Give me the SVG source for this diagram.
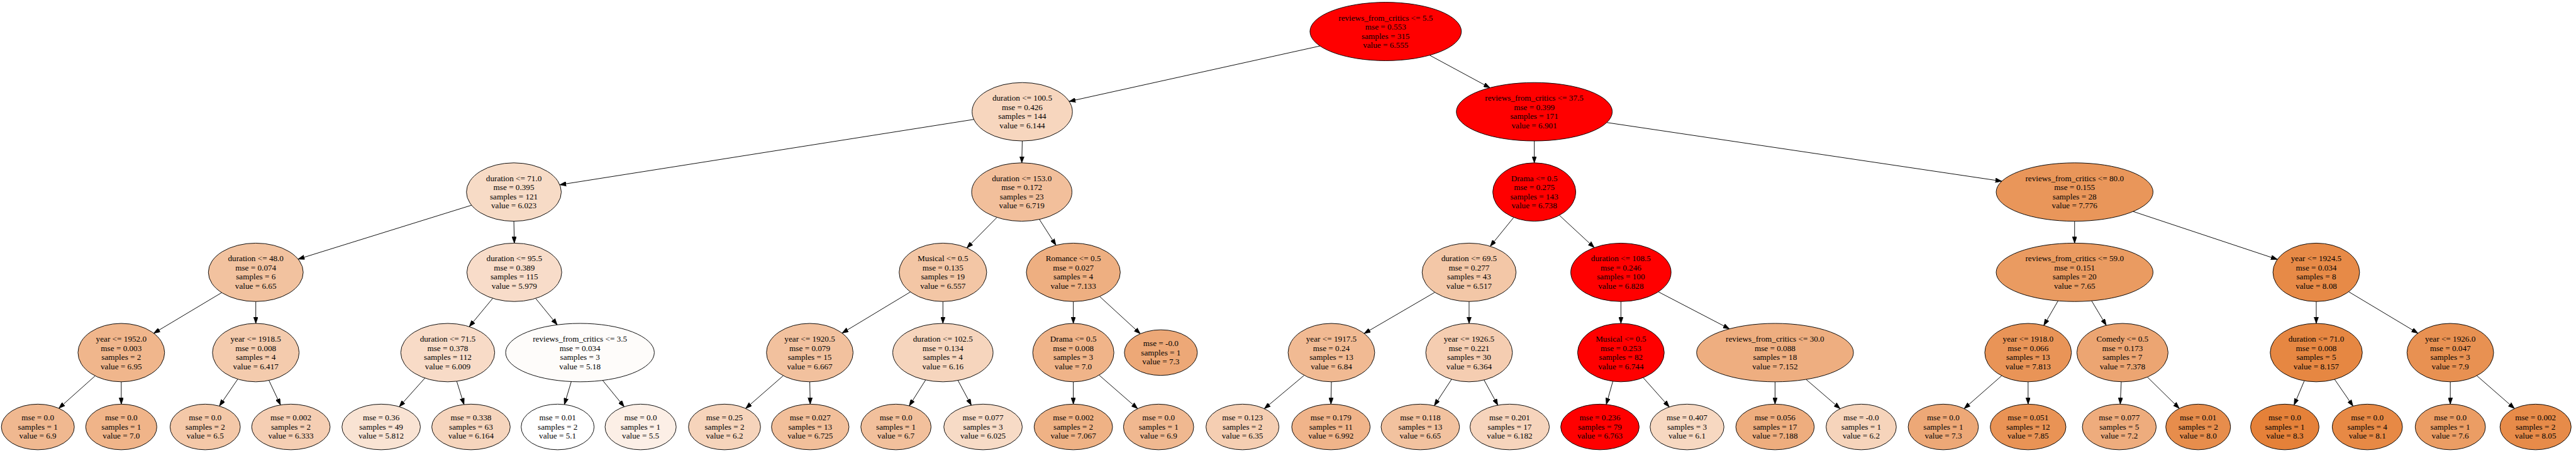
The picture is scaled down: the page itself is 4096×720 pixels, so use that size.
<svg xmlns="http://www.w3.org/2000/svg" width="4096" height="720" viewBox="0 0 4096 720">
<defs>
<style>
.node ellipse{stroke:#000;stroke-width:1.3}
.node text{font-family:"Liberation Serif","Times New Roman",serif;font-size:18.2px;text-anchor:middle;fill:#000}
.edges line{stroke:#000;stroke-width:1.3;fill:none;marker-end:url(#arr)}
</style>
<marker id="arr" markerUnits="userSpaceOnUse" viewBox="0 0 14 10" markerWidth="14" markerHeight="10" refX="14" refY="5" orient="auto"><path d="M0,0 L14,5 L0,10 z" fill="#000" stroke="#000" stroke-width="1"/></marker>
</defs>
<rect x="0" y="0" width="4096" height="720" fill="#fff"/>
<g transform="scale(0.725)">
<g id="edges" class="edges">
<line x1="2895" y1="100.8" x2="2344.9" y2="222.3"/>
<line x1="3135.5" y1="121.1" x2="3267.6" y2="192.4"/>
<line x1="2135.8" y1="261.8" x2="1227.7" y2="405.1"/>
<line x1="2242" y1="309" x2="2241" y2="357"/>
<line x1="3365" y1="309" x2="3365" y2="357"/>
<line x1="3523.9" y1="268.6" x2="4390.3" y2="397.3"/>
<line x1="1034.2" y1="449.9" x2="653.8" y2="568.1"/>
<line x1="1127" y1="485" x2="1128" y2="533"/>
<line x1="2186.4" y1="476.6" x2="2120.6" y2="543.5"/>
<line x1="2279.5" y1="480.9" x2="2315.8" y2="537.6"/>
<line x1="3319.9" y1="476.6" x2="3268.4" y2="539.9"/>
<line x1="3420" y1="472" x2="3496.5" y2="542.8"/>
<line x1="4550" y1="485" x2="4550" y2="533"/>
<line x1="4678.3" y1="463.6" x2="4994.8" y2="568.7"/>
<line x1="486.3" y1="641.5" x2="337.1" y2="730.6"/>
<line x1="561" y1="661" x2="561" y2="709"/>
<line x1="1080.7" y1="654" x2="1029.2" y2="716.1"/>
<line x1="1174.8" y1="654.2" x2="1222.1" y2="712.1"/>
<line x1="1996.8" y1="639.9" x2="1846.8" y2="730.3"/>
<line x1="2068" y1="661" x2="2068" y2="709"/>
<line x1="2354" y1="661" x2="2354" y2="709"/>
<line x1="2411.8" y1="650" x2="2500.9" y2="731.7"/>
<line x1="3146.9" y1="640.8" x2="2991.8" y2="731.1"/>
<line x1="3222" y1="661" x2="3222" y2="709"/>
<line x1="3555" y1="661" x2="3555" y2="709"/>
<line x1="3637" y1="639.7" x2="3793" y2="720.9"/>
<line x1="4513.7" y1="659.6" x2="4482.5" y2="713.4"/>
<line x1="4587.3" y1="659.5" x2="4619.3" y2="713.2"/>
<line x1="5080" y1="661" x2="5080" y2="709"/>
<line x1="5151" y1="639.5" x2="5303" y2="730.5"/>
<line x1="208.7" y1="824" x2="129" y2="895.1"/>
<line x1="266" y1="837" x2="266" y2="886"/>
<line x1="521.4" y1="831.2" x2="481.3" y2="890"/>
<line x1="589.8" y1="834" x2="615.2" y2="887.8"/>
<line x1="931.9" y1="828.9" x2="875.7" y2="891.6"/>
<line x1="1001.7" y1="835.8" x2="1017.6" y2="886.8"/>
<line x1="1252.9" y1="836.6" x2="1237.8" y2="886.9"/>
<line x1="1321.7" y1="833.9" x2="1368.9" y2="891.7"/>
<line x1="1717.9" y1="823.6" x2="1635.4" y2="895.5"/>
<line x1="1776" y1="837" x2="1777" y2="886"/>
<line x1="2030" y1="833.1" x2="1994.2" y2="889.7"/>
<line x1="2101" y1="834.1" x2="2130.2" y2="888.3"/>
<line x1="2354" y1="837" x2="2354" y2="886"/>
<line x1="2410.6" y1="822.4" x2="2495" y2="895.9"/>
<line x1="2860.4" y1="822.8" x2="2772.9" y2="896"/>
<line x1="2920" y1="837" x2="2919" y2="886"/>
<line x1="3183.6" y1="831.5" x2="3145.7" y2="889.3"/>
<line x1="3254.8" y1="833.1" x2="3285" y2="888.3"/>
<line x1="3537.3" y1="835.9" x2="3522.9" y2="886.7"/>
<line x1="3603.8" y1="827.9" x2="3661" y2="892.2"/>
<line x1="3893" y1="837" x2="3893" y2="886"/>
<line x1="3961.1" y1="831.8" x2="4035.7" y2="896"/>
<line x1="4390.1" y1="823.7" x2="4307.8" y2="895.8"/>
<line x1="4448" y1="837" x2="4448" y2="886"/>
<line x1="4652.3" y1="837" x2="4650.1" y2="886"/>
<line x1="4709.6" y1="826.6" x2="4779.6" y2="895.4"/>
<line x1="5053.8" y1="834.8" x2="5031.4" y2="887.9"/>
<line x1="5120.3" y1="831.7" x2="5160.6" y2="890.3"/>
<line x1="5374" y1="837" x2="5374" y2="886"/>
<line x1="5432.1" y1="823.6" x2="5514.8" y2="895.7"/>
</g>
<g id="n0" class="node"><ellipse cx="3039" cy="69" rx="166" ry="64" fill="#ff0000"/><text><tspan x="3039" y="45">reviews_from_critics &lt;= 5.5</tspan><tspan x="3039" dy="20">mse = 0.553</tspan><tspan x="3039" dy="20">samples = 315</tspan><tspan x="3039" dy="20">value = 6.555</tspan></text></g>
<g id="n1" class="node"><ellipse cx="2242" cy="245" rx="110" ry="64" fill="#f7d6be"/><text><tspan x="2242" y="221">duration &lt;= 100.5</tspan><tspan x="2242" dy="20">mse = 0.426</tspan><tspan x="2242" dy="20">samples = 144</tspan><tspan x="2242" dy="20">value = 6.144</tspan></text></g>
<g id="n2" class="node"><ellipse cx="3365" cy="245" rx="171" ry="64" fill="#ff0000"/><text><tspan x="3365" y="221">reviews_from_critics &lt;= 37.5</tspan><tspan x="3365" dy="20">mse = 0.399</tspan><tspan x="3365" dy="20">samples = 171</tspan><tspan x="3365" dy="20">value = 6.901</tspan></text></g>
<g id="n3" class="node"><ellipse cx="1127" cy="421" rx="104" ry="64" fill="#f7dbc6"/><text><tspan x="1127" y="397">duration &lt;= 71.0</tspan><tspan x="1127" dy="20">mse = 0.395</tspan><tspan x="1127" dy="20">samples = 121</tspan><tspan x="1127" dy="20">value = 6.023</tspan></text></g>
<g id="n4" class="node"><ellipse cx="2241" cy="421" rx="110" ry="64" fill="#f2bf9b"/><text><tspan x="2241" y="397">duration &lt;= 153.0</tspan><tspan x="2241" dy="20">mse = 0.172</tspan><tspan x="2241" dy="20">samples = 23</tspan><tspan x="2241" dy="20">value = 6.719</tspan></text></g>
<g id="n5" class="node"><ellipse cx="3365" cy="421" rx="91" ry="64" fill="#ff0000"/><text><tspan x="3365" y="397">Drama &lt;= 0.5</tspan><tspan x="3365" dy="20">mse = 0.275</tspan><tspan x="3365" dy="20">samples = 143</tspan><tspan x="3365" dy="20">value = 6.738</tspan></text></g>
<g id="n6" class="node"><ellipse cx="4550" cy="421" rx="172" ry="64" fill="#e9965a"/><text><tspan x="4550" y="397">reviews_from_critics &lt;= 80.0</tspan><tspan x="4550" dy="20">mse = 0.155</tspan><tspan x="4550" dy="20">samples = 28</tspan><tspan x="4550" dy="20">value = 7.776</tspan></text></g>
<g id="n7" class="node"><ellipse cx="561" cy="597" rx="104" ry="64" fill="#f2c29f"/><text><tspan x="561" y="573">duration &lt;= 48.0</tspan><tspan x="561" dy="20">mse = 0.074</tspan><tspan x="561" dy="20">samples = 6</tspan><tspan x="561" dy="20">value = 6.65</tspan></text></g>
<g id="n8" class="node"><ellipse cx="1128" cy="597" rx="104" ry="64" fill="#f8dcc9"/><text><tspan x="1128" y="573">duration &lt;= 95.5</tspan><tspan x="1128" dy="20">mse = 0.389</tspan><tspan x="1128" dy="20">samples = 115</tspan><tspan x="1128" dy="20">value = 5.979</tspan></text></g>
<g id="n9" class="node"><ellipse cx="2068" cy="597" rx="96" ry="64" fill="#f3c6a5"/><text><tspan x="2068" y="573">Musical &lt;= 0.5</tspan><tspan x="2068" dy="20">mse = 0.135</tspan><tspan x="2068" dy="20">samples = 19</tspan><tspan x="2068" dy="20">value = 6.557</tspan></text></g>
<g id="n10" class="node"><ellipse cx="2354" cy="597" rx="103" ry="64" fill="#eeaf81"/><text><tspan x="2354" y="573">Romance &lt;= 0.5</tspan><tspan x="2354" dy="20">mse = 0.027</tspan><tspan x="2354" dy="20">samples = 4</tspan><tspan x="2354" dy="20">value = 7.133</tspan></text></g>
<g id="n11" class="node"><ellipse cx="3222" cy="597" rx="103" ry="64" fill="#f3c7a7"/><text><tspan x="3222" y="573">duration &lt;= 69.5</tspan><tspan x="3222" dy="20">mse = 0.277</tspan><tspan x="3222" dy="20">samples = 43</tspan><tspan x="3222" dy="20">value = 6.517</tspan></text></g>
<g id="n12" class="node"><ellipse cx="3555" cy="597" rx="110" ry="64" fill="#ff0000"/><text><tspan x="3555" y="573">duration &lt;= 108.5</tspan><tspan x="3555" dy="20">mse = 0.246</tspan><tspan x="3555" dy="20">samples = 100</tspan><tspan x="3555" dy="20">value = 6.828</tspan></text></g>
<g id="n13" class="node"><ellipse cx="4550" cy="597" rx="172" ry="64" fill="#ea9b61"/><text><tspan x="4550" y="573">reviews_from_critics &lt;= 59.0</tspan><tspan x="4550" dy="20">mse = 0.151</tspan><tspan x="4550" dy="20">samples = 20</tspan><tspan x="4550" dy="20">value = 7.65</tspan></text></g>
<g id="n14" class="node"><ellipse cx="5080" cy="597" rx="95" ry="64" fill="#e78a47"/><text><tspan x="5080" y="573">year &lt;= 1924.5</tspan><tspan x="5080" dy="20">mse = 0.034</tspan><tspan x="5080" dy="20">samples = 8</tspan><tspan x="5080" dy="20">value = 8.08</tspan></text></g>
<g id="n15" class="node"><ellipse cx="266" cy="773" rx="95" ry="64" fill="#f0b68c"/><text><tspan x="266" y="749">year &lt;= 1952.0</tspan><tspan x="266" dy="20">mse = 0.003</tspan><tspan x="266" dy="20">samples = 2</tspan><tspan x="266" dy="20">value = 6.95</tspan></text></g>
<g id="n16" class="node"><ellipse cx="561" cy="773" rx="95" ry="64" fill="#f4cbad"/><text><tspan x="561" y="749">year &lt;= 1918.5</tspan><tspan x="561" dy="20">mse = 0.008</tspan><tspan x="561" dy="20">samples = 4</tspan><tspan x="561" dy="20">value = 6.417</tspan></text></g>
<g id="n17" class="node"><ellipse cx="982" cy="773" rx="103" ry="64" fill="#f8dbc7"/><text><tspan x="982" y="749">duration &lt;= 71.5</tspan><tspan x="982" dy="20">mse = 0.378</tspan><tspan x="982" dy="20">samples = 112</tspan><tspan x="982" dy="20">value = 6.009</tspan></text></g>
<g id="n18" class="node"><ellipse cx="1272" cy="773" rx="163" ry="64" fill="#fefcfa"/><text><tspan x="1272" y="749">reviews_from_critics &lt;= 3.5</tspan><tspan x="1272" dy="20">mse = 0.034</tspan><tspan x="1272" dy="20">samples = 3</tspan><tspan x="1272" dy="20">value = 5.18</tspan></text></g>
<g id="n19" class="node"><ellipse cx="1776" cy="773" rx="95" ry="64" fill="#f2c19e"/><text><tspan x="1776" y="749">year &lt;= 1920.5</tspan><tspan x="1776" dy="20">mse = 0.079</tspan><tspan x="1776" dy="20">samples = 15</tspan><tspan x="1776" dy="20">value = 6.667</tspan></text></g>
<g id="n20" class="node"><ellipse cx="2068" cy="773" rx="110" ry="64" fill="#f6d5bd"/><text><tspan x="2068" y="749">duration &lt;= 102.5</tspan><tspan x="2068" dy="20">mse = 0.134</tspan><tspan x="2068" dy="20">samples = 4</tspan><tspan x="2068" dy="20">value = 6.16</tspan></text></g>
<g id="n21" class="node"><ellipse cx="2354" cy="773" rx="89" ry="64" fill="#f0b489"/><text><tspan x="2354" y="749">Drama &lt;= 0.5</tspan><tspan x="2354" dy="20">mse = 0.008</tspan><tspan x="2354" dy="20">samples = 3</tspan><tspan x="2354" dy="20">value = 7.0</tspan></text></g>
<g id="n22" class="node"><ellipse cx="2546" cy="773" rx="80" ry="50" fill="#eda877"/><text><tspan x="2546" y="759">mse = -0.0</tspan><tspan x="2546" dy="20">samples = 1</tspan><tspan x="2546" dy="20">value = 7.3</tspan></text></g>
<g id="n23" class="node"><ellipse cx="2920" cy="773" rx="95" ry="64" fill="#f1ba93"/><text><tspan x="2920" y="749">year &lt;= 1917.5</tspan><tspan x="2920" dy="20">mse = 0.24</tspan><tspan x="2920" dy="20">samples = 13</tspan><tspan x="2920" dy="20">value = 6.84</tspan></text></g>
<g id="n24" class="node"><ellipse cx="3222" cy="773" rx="95" ry="64" fill="#f5cdb1"/><text><tspan x="3222" y="749">year &lt;= 1926.5</tspan><tspan x="3222" dy="20">mse = 0.221</tspan><tspan x="3222" dy="20">samples = 30</tspan><tspan x="3222" dy="20">value = 6.364</tspan></text></g>
<g id="n25" class="node"><ellipse cx="3555" cy="773" rx="95" ry="64" fill="#ff0000"/><text><tspan x="3555" y="749">Musical &lt;= 0.5</tspan><tspan x="3555" dy="20">mse = 0.253</tspan><tspan x="3555" dy="20">samples = 82</tspan><tspan x="3555" dy="20">value = 6.744</tspan></text></g>
<g id="n26" class="node"><ellipse cx="3893" cy="773" rx="172" ry="64" fill="#eeae80"/><text><tspan x="3893" y="749">reviews_from_critics &lt;= 30.0</tspan><tspan x="3893" dy="20">mse = 0.088</tspan><tspan x="3893" dy="20">samples = 18</tspan><tspan x="3893" dy="20">value = 7.152</tspan></text></g>
<g id="n27" class="node"><ellipse cx="4448" cy="773" rx="95" ry="64" fill="#e99457"/><text><tspan x="4448" y="749">year &lt;= 1918.0</tspan><tspan x="4448" dy="20">mse = 0.066</tspan><tspan x="4448" dy="20">samples = 13</tspan><tspan x="4448" dy="20">value = 7.813</tspan></text></g>
<g id="n28" class="node"><ellipse cx="4655" cy="773" rx="100" ry="64" fill="#eca572"/><text><tspan x="4655" y="749">Comedy &lt;= 0.5</tspan><tspan x="4655" dy="20">mse = 0.173</tspan><tspan x="4655" dy="20">samples = 7</tspan><tspan x="4655" dy="20">value = 7.378</tspan></text></g>
<g id="n29" class="node"><ellipse cx="5080" cy="773" rx="101" ry="64" fill="#e68742"/><text><tspan x="5080" y="749">duration &lt;= 71.0</tspan><tspan x="5080" dy="20">mse = 0.008</tspan><tspan x="5080" dy="20">samples = 5</tspan><tspan x="5080" dy="20">value = 8.157</tspan></text></g>
<g id="n30" class="node"><ellipse cx="5374" cy="773" rx="95" ry="64" fill="#e89152"/><text><tspan x="5374" y="749">year &lt;= 1926.0</tspan><tspan x="5374" dy="20">mse = 0.047</tspan><tspan x="5374" dy="20">samples = 3</tspan><tspan x="5374" dy="20">value = 7.9</tspan></text></g>
<g id="L1" class="node"><ellipse cx="83" cy="936" rx="80" ry="50" fill="#f0b890"/><text><tspan x="83" y="922">mse = 0.0</tspan><tspan x="83" dy="20">samples = 1</tspan><tspan x="83" dy="20">value = 6.9</tspan></text></g>
<g id="L2" class="node"><ellipse cx="266" cy="936" rx="78" ry="50" fill="#f0b489"/><text><tspan x="266" y="922">mse = 0.0</tspan><tspan x="266" dy="20">samples = 1</tspan><tspan x="266" dy="20">value = 7.0</tspan></text></g>
<g id="L3" class="node"><ellipse cx="450" cy="936" rx="77" ry="50" fill="#f4c8a8"/><text><tspan x="450" y="922">mse = 0.0</tspan><tspan x="450" dy="20">samples = 2</tspan><tspan x="450" dy="20">value = 6.5</tspan></text></g>
<g id="L4" class="node"><ellipse cx="638" cy="936" rx="86" ry="50" fill="#f5ceb3"/><text><tspan x="638" y="922">mse = 0.002</tspan><tspan x="638" dy="20">samples = 2</tspan><tspan x="638" dy="20">value = 6.333</tspan></text></g>
<g id="L5" class="node"><ellipse cx="836" cy="936" rx="86" ry="50" fill="#f9e3d3"/><text><tspan x="836" y="922">mse = 0.36</tspan><tspan x="836" dy="20">samples = 49</tspan><tspan x="836" dy="20">value = 5.812</tspan></text></g>
<g id="L6" class="node"><ellipse cx="1033" cy="936" rx="86" ry="50" fill="#f6d5bd"/><text><tspan x="1033" y="922">mse = 0.338</tspan><tspan x="1033" dy="20">samples = 63</tspan><tspan x="1033" dy="20">value = 6.164</tspan></text></g>
<g id="L7" class="node"><ellipse cx="1223" cy="936" rx="80" ry="50" fill="#ffffff"/><text><tspan x="1223" y="922">mse = 0.01</tspan><tspan x="1223" dy="20">samples = 2</tspan><tspan x="1223" dy="20">value = 5.1</tspan></text></g>
<g id="L8" class="node"><ellipse cx="1405" cy="936" rx="78" ry="50" fill="#fcefe6"/><text><tspan x="1405" y="922">mse = 0.0</tspan><tspan x="1405" dy="20">samples = 1</tspan><tspan x="1405" dy="20">value = 5.5</tspan></text></g>
<g id="L9" class="node"><ellipse cx="1589" cy="936" rx="79" ry="50" fill="#f6d4bb"/><text><tspan x="1589" y="922">mse = 0.25</tspan><tspan x="1589" dy="20">samples = 2</tspan><tspan x="1589" dy="20">value = 6.2</tspan></text></g>
<g id="L10" class="node"><ellipse cx="1777" cy="936" rx="85" ry="50" fill="#f2bf9a"/><text><tspan x="1777" y="922">mse = 0.027</tspan><tspan x="1777" dy="20">samples = 13</tspan><tspan x="1777" dy="20">value = 6.725</tspan></text></g>
<g id="L11" class="node"><ellipse cx="1965" cy="936" rx="77" ry="50" fill="#f2c09c"/><text><tspan x="1965" y="922">mse = 0.0</tspan><tspan x="1965" dy="20">samples = 1</tspan><tspan x="1965" dy="20">value = 6.7</tspan></text></g>
<g id="L12" class="node"><ellipse cx="2156" cy="936" rx="86" ry="50" fill="#f7dbc6"/><text><tspan x="2156" y="922">mse = 0.077</tspan><tspan x="2156" dy="20">samples = 3</tspan><tspan x="2156" dy="20">value = 6.025</tspan></text></g>
<g id="L13" class="node"><ellipse cx="2354" cy="936" rx="86" ry="50" fill="#efb285"/><text><tspan x="2354" y="922">mse = 0.002</tspan><tspan x="2354" dy="20">samples = 2</tspan><tspan x="2354" dy="20">value = 7.067</tspan></text></g>
<g id="L14" class="node"><ellipse cx="2541" cy="936" rx="77" ry="50" fill="#f0b890"/><text><tspan x="2541" y="922">mse = 0.0</tspan><tspan x="2541" dy="20">samples = 1</tspan><tspan x="2541" dy="20">value = 6.9</tspan></text></g>
<g id="L15" class="node"><ellipse cx="2725" cy="936" rx="80" ry="50" fill="#f5ceb2"/><text><tspan x="2725" y="922">mse = 0.123</tspan><tspan x="2725" dy="20">samples = 2</tspan><tspan x="2725" dy="20">value = 6.35</tspan></text></g>
<g id="L16" class="node"><ellipse cx="2919" cy="936" rx="86" ry="50" fill="#f0b48a"/><text><tspan x="2919" y="922">mse = 0.179</tspan><tspan x="2919" dy="20">samples = 11</tspan><tspan x="2919" dy="20">value = 6.992</tspan></text></g>
<g id="L17" class="node"><ellipse cx="3115" cy="936" rx="86" ry="50" fill="#f2c29f"/><text><tspan x="3115" y="922">mse = 0.118</tspan><tspan x="3115" dy="20">samples = 13</tspan><tspan x="3115" dy="20">value = 6.65</tspan></text></g>
<g id="L18" class="node"><ellipse cx="3311" cy="936" rx="87" ry="50" fill="#f6d4bc"/><text><tspan x="3311" y="922">mse = 0.201</tspan><tspan x="3311" dy="20">samples = 17</tspan><tspan x="3311" dy="20">value = 6.182</tspan></text></g>
<g id="L19" class="node"><ellipse cx="3509" cy="936" rx="86" ry="50" fill="#ff0000"/><text><tspan x="3509" y="922">mse = 0.236</tspan><tspan x="3509" dy="20">samples = 79</tspan><tspan x="3509" dy="20">value = 6.763</tspan></text></g>
<g id="L20" class="node"><ellipse cx="3700" cy="936" rx="81" ry="50" fill="#f7d8c1"/><text><tspan x="3700" y="922">mse = 0.407</tspan><tspan x="3700" dy="20">samples = 3</tspan><tspan x="3700" dy="20">value = 6.1</tspan></text></g>
<g id="L21" class="node"><ellipse cx="3893" cy="936" rx="86" ry="50" fill="#eead7e"/><text><tspan x="3893" y="922">mse = 0.056</tspan><tspan x="3893" dy="20">samples = 17</tspan><tspan x="3893" dy="20">value = 7.188</tspan></text></g>
<g id="L22" class="node"><ellipse cx="4082" cy="936" rx="77" ry="50" fill="#f6d4bb"/><text><tspan x="4082" y="922">mse = -0.0</tspan><tspan x="4082" dy="20">samples = 1</tspan><tspan x="4082" dy="20">value = 6.2</tspan></text></g>
<g id="L23" class="node"><ellipse cx="4262" cy="936" rx="77" ry="50" fill="#eda877"/><text><tspan x="4262" y="922">mse = 0.0</tspan><tspan x="4262" dy="20">samples = 1</tspan><tspan x="4262" dy="20">value = 7.3</tspan></text></g>
<g id="L24" class="node"><ellipse cx="4448" cy="936" rx="83" ry="50" fill="#e99355"/><text><tspan x="4448" y="922">mse = 0.051</tspan><tspan x="4448" dy="20">samples = 12</tspan><tspan x="4448" dy="20">value = 7.85</tspan></text></g>
<g id="L25" class="node"><ellipse cx="4648" cy="936" rx="81" ry="50" fill="#eeac7d"/><text><tspan x="4648" y="922">mse = 0.077</tspan><tspan x="4648" dy="20">samples = 5</tspan><tspan x="4648" dy="20">value = 7.2</tspan></text></g>
<g id="L26" class="node"><ellipse cx="4821" cy="936" rx="71" ry="50" fill="#e78d4c"/><text><tspan x="4821" y="922">mse = 0.01</tspan><tspan x="4821" dy="20">samples = 2</tspan><tspan x="4821" dy="20">value = 8.0</tspan></text></g>
<g id="L27" class="node"><ellipse cx="5011" cy="936" rx="75" ry="50" fill="#e58139"/><text><tspan x="5011" y="922">mse = 0.0</tspan><tspan x="5011" dy="20">samples = 1</tspan><tspan x="5011" dy="20">value = 8.3</tspan></text></g>
<g id="L28" class="node"><ellipse cx="5192" cy="936" rx="77" ry="50" fill="#e78945"/><text><tspan x="5192" y="922">mse = 0.0</tspan><tspan x="5192" dy="20">samples = 4</tspan><tspan x="5192" dy="20">value = 8.1</tspan></text></g>
<g id="L29" class="node"><ellipse cx="5374" cy="936" rx="77" ry="50" fill="#eb9d64"/><text><tspan x="5374" y="922">mse = 0.0</tspan><tspan x="5374" dy="20">samples = 1</tspan><tspan x="5374" dy="20">value = 7.6</tspan></text></g>
<g id="L30" class="node"><ellipse cx="5561" cy="936" rx="78" ry="50" fill="#e78b49"/><text><tspan x="5561" y="922">mse = 0.002</tspan><tspan x="5561" dy="20">samples = 2</tspan><tspan x="5561" dy="20">value = 8.05</tspan></text></g>
</g>
</svg>
